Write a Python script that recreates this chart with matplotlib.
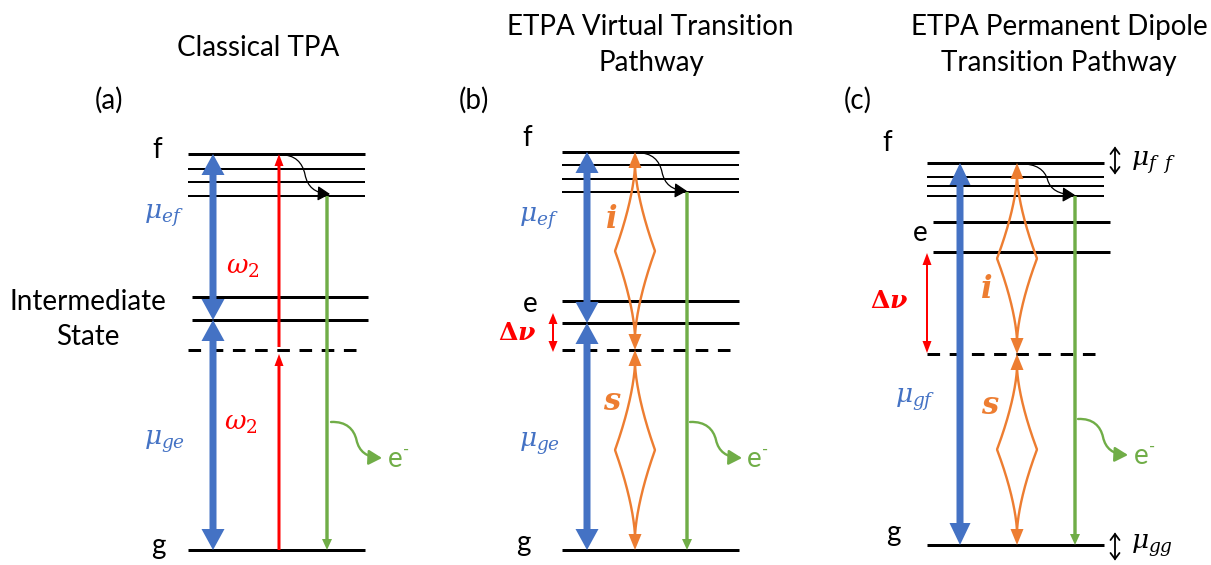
import matplotlib
matplotlib.use("Agg")
import matplotlib.pyplot as plt
import numpy as np
from matplotlib.patches import FancyArrow, FancyArrowPatch, Polygon
from matplotlib.path import Path

# ---- level energies (drawing units, y grows downward) ----
a_f_levels = [154, 169, 182, 196]
a_int_levels = [297, 320]
a_virtual = 350
a_g = 550

b_f_levels = [152, 165, 179, 192]
b_e_levels = [301, 323]
b_virtual = 350
b_g = 550

c_f_levels = [163, 177, 186, 196]
c_e_levels = [222, 252]
c_virtual = 354
c_g = 545

# horizontal extents of the level ladders
a_span = (188, 365)
a_int_span = (192, 368)
b_span = (562, 739)
c_span = (927, 1104)
c_e_span = (933, 1110)

# transition columns
a_cols = dict(blue=213, red=279, green=327)
b_cols = dict(blue=587, orange=635, green=687)
c_cols = dict(blue=960, orange=1017, green=1075)

titles = ["Classical TPA", "ETPA Virtual Transition", "Pathway",
          "ETPA Permanent Dipole", "Transition Pathway"]
panel_tags = ["(a)", "(b)", "(c)"]

BLUE = "#4472C4"
RED = "#FF0000"
GREEN = "#70AD47"
ORANGE = "#ED7D31"
BLACK = "black"

SANS = ["Lato", "DejaVu Sans"]
plt.rcParams["mathtext.fontset"] = "dejavuserif"

W, H = 1211, 565
fig = plt.figure(figsize=(W / 100, H / 100), dpi=100)
ax = fig.add_axes([0, 0, 1, 1])
ax.set_xlim(0, W)
ax.set_ylim(H, 0)
ax.axis("off")

PX = 0.72  # points per pixel at 100 dpi


def level(y, span, thick=True, dashed=False):
    lw = (3 if thick else 2) * PX
    ls = (0, (4.2, 3.2)) if dashed else "-"
    ax.plot(span, [y, y], color=BLACK, lw=lw, ls=ls, solid_capstyle="butt",
            dash_capstyle="butt", zorder=2)


def arrow(x, y0, y1, color, shaft, hw, hl, z=4):
    ax.add_patch(FancyArrow(x, y0, 0, y1 - y0, width=shaft, head_width=hw,
                            head_length=hl, length_includes_head=True,
                            color=color, lw=0, zorder=z))


def double_arrow(x, y0, y1, color, shaft, hw, hl, z=4):
    # y0 is the upper tip, y1 the lower tip
    s, h = shaft / 2, hw / 2
    pts = [[x, y0], [x + h, y0 + hl], [x + s, y0 + hl], [x + s, y1 - hl],
           [x + h, y1 - hl], [x, y1], [x - h, y1 - hl], [x - s, y1 - hl],
           [x - s, y0 + hl], [x - h, y0 + hl]]
    ax.add_patch(Polygon(pts, closed=True, color=color, lw=0, zorder=z))


def head(x, tip, base, half, color, z=5):
    ax.add_patch(Polygon([[x, tip], [x - half, base], [x + half, base]],
                         closed=True, color=color, lw=0, zorder=z))


def photon_pair(x, y0, y1, w, color):
    hl, hh = 16, 6.5
    head(x, y0, y0 + hl, hh, color)
    head(x, y1, y1 - hl, hh, color)
    top, bot = y0 + hl - 3, y1 - hl + 3
    mid = 0.5 * (top + bot)
    half = 0.5 * (bot - top)
    yy = np.linspace(top, bot, 200)
    t = 1 - np.abs(yy - mid) / half
    off = w * t ** 1.55
    for s in (-1, 1):
        ax.plot(x + s * off, yy, color=color, lw=2.4 * PX, zorder=4,
                solid_joinstyle="miter")


def squiggle(x0, y0, x1, y1, color, lw, hl, hw):
    dx, dy = x1 - x0, y1 - y0
    frac = [(0, 0), (0.3, -0.02), (0.45, 0.2), (0.5, 0.5),
            (0.55, 0.82), (0.7, 0.98), (1, 1)]
    verts = [(x0 + fx * dx, y0 + fy * dy) for fx, fy in frac]
    codes = [Path.MOVETO] + [Path.CURVE4] * 6
    p = FancyArrowPatch(path=Path(verts, codes),
                        arrowstyle=f"-|>,head_length={hl},head_width={hw}",
                        mutation_scale=10, color=color, lw=lw, zorder=6,
                        shrinkA=0, shrinkB=0)
    ax.add_patch(p)


def updown(x, ya, yb):
    # small two-way arrow with open chevron heads
    c = dict(color=BLACK, lw=1.3, zorder=6, solid_capstyle="round",
             solid_joinstyle="miter")
    ax.plot([x, x], [ya, yb], **c)
    ax.plot([x - 4.5, x, x + 4.5], [ya + 6, ya, ya + 6], **c)
    ax.plot([x - 4.5, x, x + 4.5], [yb - 6, yb, yb - 6], **c)


def txt(x, y, s, color=BLACK, size=20, ha="center", **kw):
    fam = kw.pop("family", SANS)
    ax.text(x, y, s, color=color, fontsize=size, ha=ha, va="center",
            family=fam, zorder=7, **kw)


def e_minus(x, y):
    txt(x, y, "e", GREEN, 20, ha="left")
    txt(x + 15, y - 9, "-", GREEN, 12, ha="left")


# ---- titles ----
txt(258, 48, titles[0])
txt(650, 27, titles[1])
txt(651, 63, titles[2])
txt(1059, 27, titles[3])
txt(1059, 63, titles[4])
for tag, xt in zip(panel_tags, [109, 474, 858]):
    txt(xt, 100, tag)

BH = dict(hw=23, hl=21)
GREEN_ARROW = dict(shaft=3.4, hw=10, hl=11)

# ================= panel (a) =================
for i, y in enumerate(a_f_levels):
    level(y, a_span, thick=(i == 0))
for y in a_int_levels:
    level(y, a_int_span)
level(a_virtual, a_span, dashed=True)
level(a_g, a_span)

double_arrow(a_cols["blue"], a_f_levels[0], a_int_levels[1], BLUE, 7, **BH)
double_arrow(a_cols["blue"], a_int_levels[1], a_g, BLUE, 7, **BH)
arrow(a_cols["red"], a_virtual - 3, a_f_levels[0], RED, 3, 9, 12)
arrow(a_cols["red"], a_g, a_virtual + 4, RED, 3, 9, 12)
arrow(a_cols["green"], a_f_levels[3], a_g, GREEN, **GREEN_ARROW)
squiggle(a_cols["red"] + 1, a_f_levels[0] + 1, a_cols["green"] + 3, a_f_levels[3] - 2,
         BLACK, 0.9, 0.75, 0.45)
squiggle(a_cols["green"] + 4, 422, 382, 458, GREEN, 1.7, 0.8, 0.45)
e_minus(388, 459)

txt(157, 150, "f")
txt(158, 546, "g")
txt(88, 302, "Intermediate")
txt(88, 337, "State")
txt(164, 216, r"$\mu_{ef}$", BLUE, 19)
txt(243, 268, r"$\omega_2$", RED, 19)
txt(165, 442, r"$\mu_{ge}$", BLUE, 19)
txt(241, 423, r"$\omega_2$", RED, 19)

# ================= panel (b) =================
for i, y in enumerate(b_f_levels):
    level(y, b_span, thick=(i == 0))
for y in b_e_levels:
    level(y, b_span)
level(b_virtual, b_span, dashed=True)
level(b_g, b_span)

double_arrow(b_cols["blue"], b_f_levels[0], b_e_levels[1], BLUE, 7, **BH)
double_arrow(b_cols["blue"], b_e_levels[1], b_g, BLUE, 7, **BH)
photon_pair(b_cols["orange"], b_f_levels[0], b_virtual, 20, ORANGE)
photon_pair(b_cols["orange"], b_virtual, b_g, 20, ORANGE)
arrow(b_cols["green"], b_f_levels[3], b_g, GREEN, **GREEN_ARROW)
double_arrow(553, b_e_levels[1] - 10, b_virtual + 2, RED, 2, 9, 11)
squiggle(b_cols["orange"] + 2, b_f_levels[0] + 1, b_cols["green"], b_f_levels[3] - 1,
         BLACK, 0.9, 0.75, 0.45)
squiggle(b_cols["green"] + 3, 422, 742, 458, GREEN, 1.7, 0.8, 0.45)
e_minus(747, 459)

txt(527, 138, "f")
txt(530, 304, "e")
txt(523, 543, "g")
txt(539, 219, r"$\mu_{ef}$", BLUE, 19)
txt(540, 444, r"$\mu_{ge}$", BLUE, 19)
txt(517, 333, r"$\mathbf{\Delta}\boldsymbol{\nu}$", RED, 18)
txt(612, 219, "i", ORANGE, 22, family=["DejaVu Serif"], style="italic", weight="bold")
txt(612, 402, "s", ORANGE, 22, family=["DejaVu Serif"], style="italic", weight="bold")

# ================= panel (c) =================
for i, y in enumerate(c_f_levels):
    level(y, c_span, thick=(i == 0))
for y in c_e_levels:
    level(y, c_e_span)
level(c_virtual, c_span, dashed=True)
level(c_g, c_span)

double_arrow(c_cols["blue"], c_f_levels[0], c_g, BLUE, 7, hw=21, hl=22)
photon_pair(c_cols["orange"], c_f_levels[0], c_virtual, 20, ORANGE)
photon_pair(c_cols["orange"], c_virtual, c_g, 20, ORANGE)
arrow(c_cols["green"], c_f_levels[3], c_g, GREEN, **GREEN_ARROW)
double_arrow(927, c_e_levels[1] + 1, c_virtual - 1, RED, 2, 9, 12)
squiggle(c_cols["orange"] + 3, c_f_levels[0] + 1, c_cols["green"], c_f_levels[3] - 1,
         BLACK, 0.9, 0.75, 0.45)
squiggle(c_cols["green"] + 3, 419, 1128, 455, GREEN, 1.7, 0.8, 0.45)
e_minus(1134, 456)

updown(1115, 148, 173)
updown(1115, 534, 559)
txt(1131, 163, r"$\mu_{f\;\;f}$", BLACK, 19, ha="left")
txt(1131, 546, r"$\mu_{gg}$", BLACK, 19, ha="left")

txt(887, 143, "f")
txt(920, 233, "e")
txt(893, 533, "g")
txt(889, 301, r"$\mathbf{\Delta}\boldsymbol{\nu}$", RED, 18)
txt(915, 400, r"$\mu_{gf}$", BLUE, 19)
txt(987, 290, "i", ORANGE, 22, family=["DejaVu Serif"], style="italic", weight="bold")
txt(990, 406, "s", ORANGE, 22, family=["DejaVu Serif"], style="italic", weight="bold")

fig.savefig("out.png", dpi=100)
